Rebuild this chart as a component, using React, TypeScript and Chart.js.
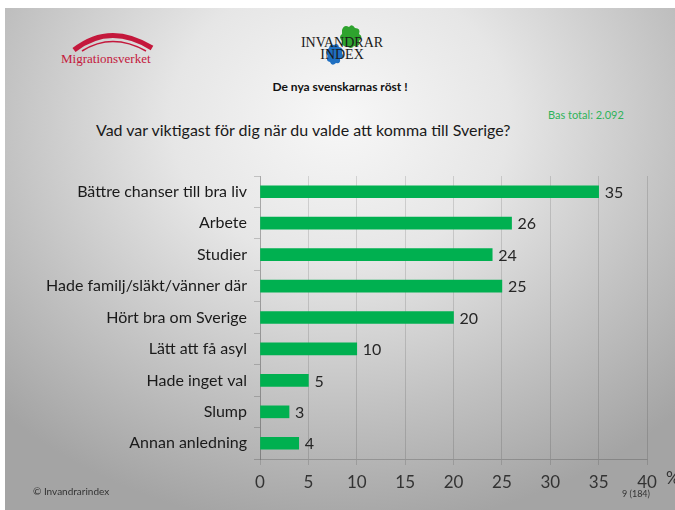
import React, { useEffect, useRef } from "react";
import { Chart, registerables } from "chart.js";

Chart.register(...registerables);

const categories: string[] = [
  "Bättre chanser till bra liv",
  "Arbete",
  "Studier",
  "Hade familj/släkt/vänner där",
  "Hört bra om Sverige",
  "Lätt att få asyl",
  "Hade inget val",
  "Slump",
  "Annan anledning",
];
const values: number[] = [35, 26, 24, 25, 20, 10, 5, 3, 4];
const xTicks: number[] = [0, 5, 10, 15, 20, 25, 30, 35, 40];

const FONT = "Lato, 'Open Sans', sans-serif";

const valueLabels = {
  id: "valueLabels",
  afterDatasetsDraw(chart: any) {
    const ctx = chart.ctx;
    const meta = chart.getDatasetMeta(0);
    ctx.save();
    ctx.font = `16px ${FONT}`;
    ctx.fillStyle = "#262626";
    ctx.textAlign = "left";
    ctx.textBaseline = "middle";
    meta.data.forEach((bar: any, i: number) => {
      ctx.fillText(String(chart.data.datasets[0].data[i]), bar.x + 6, bar.y + 1);
    });
    ctx.restore();
  },
};

export default function App() {
  const ref = useRef<HTMLCanvasElement | null>(null);
  useEffect(() => {
    if (!ref.current) return;
    const chart = new Chart(ref.current, {
      type: "bar",
      data: {
        labels: categories,
        datasets: [
          {
            data: values,
            backgroundColor: "#00b050",
            borderWidth: 0,
            barThickness: 12,
          },
        ],
      },
      plugins: [valueLabels],
      options: {
        indexAxis: "y",
        responsive: false,
        animation: false,
        layout: { padding: { left: 0, top: 176, right: 28, bottom: 21 } },
        plugins: {
          legend: { display: false },
          tooltip: { enabled: false },
        },
        scales: {
          x: {
            min: 0,
            max: 40,
            afterFit: (s: any) => {
              s.height = 30;
            },
            afterBuildTicks: (s: any) => {
              s.ticks = xTicks.map((v) => ({ value: v }));
            },
            ticks: {
              font: { size: 17, family: FONT },
              color: "#333333",
              padding: 7,
            },
            grid: {
              color: "rgba(0,0,0,0.13)",
              tickLength: 6,
              lineWidth: 1,
            },
            border: { color: "rgba(0,0,0,0.18)" },
          },
          y: {
            afterFit: (s: any) => {
              s.width = 260;
            },
            ticks: {
              font: { size: 16, family: FONT },
              color: "#1a1a1a",
              padding: 7,
            },
            grid: {
              drawOnChartArea: false,
              tickLength: 6,
              offset: true,
              color: "rgba(0,0,0,0.18)",
            },
            border: { color: "rgba(0,0,0,0.18)" },
          },
        },
      } as any,
    });
    return () => chart.destroy();
  }, []);

  return (
    <div
      style={{
        position: "absolute",
        left: 0,
        top: 0,
        width: 675,
        height: 510,
        background: "#ffffff",
        overflow: "hidden",
        fontFamily: FONT,
      }}
    >
      <div
        style={{
          position: "absolute",
          left: 5,
          top: 8,
          width: 670,
          height: 502,
          background:
            "radial-gradient(ellipse 72% 82% at 50% 22%, #f7f7f7 0%, #e6e6e6 35%, #c2c2c2 70%, #a4a4a4 100%)",
        }}
      />
      {/* Migrationsverket logo */}
      <svg
        style={{ position: "absolute", left: 60, top: 30 }}
        width={100}
        height={25}
      >
        <path
          d="M14 20 Q50 -8 92 18"
          stroke="#c4183c"
          strokeWidth={5}
          fill="none"
        />
        <path
          d="M22 21 Q52 2 86 21"
          stroke="#c4183c"
          strokeWidth={1.5}
          fill="none"
        />
      </svg>
      <div
        style={{
          position: "absolute",
          left: 61,
          top: 51,
          fontFamily: "'Liberation Serif', serif",
          fontSize: 13,
          color: "#c4183c",
          whiteSpace: "nowrap",
        }}
      >
        Migrationsverket
      </div>
      {/* Invandrar index logo */}
      <svg
        style={{ position: "absolute", left: 322, top: 22 }}
        width={44}
        height={46}
      >
        <path
          d="M20 8 Q22 2 27 5 Q30 1 33 6 Q39 6 37 12 Q42 15 37 19 Q39 25 32 24 Q29 28 25 24 Q19 25 20 19 Q16 15 20 12 Z"
          fill="#2ea32e"
        />
        <path
          d="M7 26 Q8 21 12 23 Q16 20 17 25 Q22 26 20 31 Q23 36 18 37 Q19 42 14 41 Q10 45 8 40 Q3 39 6 34 Q2 30 7 26 Z"
          fill="#1f6fc1"
        />
      </svg>
      <div
        style={{
          position: "absolute",
          left: 282,
          top: 37,
          width: 120,
          textAlign: "center",
          fontFamily: "'Liberation Serif', serif",
          fontSize: 14,
          lineHeight: "12px",
          color: "#1a1a1a",
        }}
      >
        INVANDRAR
        <br />
        INDEX
      </div>
      <div
        style={{
          position: "absolute",
          left: 240,
          top: 79,
          width: 200,
          textAlign: "center",
          fontWeight: "bold",
          fontSize: 12,
          color: "#111",
        }}
      >
        De nya svenskarnas röst !
      </div>
      <div
        style={{
          position: "absolute",
          left: 548,
          top: 108,
          fontSize: 11,
          color: "#2fb35a",
          whiteSpace: "nowrap",
        }}
      >
        Bas total: 2.092
      </div>
      <div
        style={{
          position: "absolute",
          left: 96,
          top: 120,
          fontSize: 16,
          color: "#1a1a1a",
          whiteSpace: "nowrap",
        }}
      >
        Vad var viktigast för dig när du valde att komma till Sverige?
      </div>
      <canvas
        ref={ref}
        width={675}
        height={510}
        style={{ position: "absolute", left: 0, top: 0, width: 675, height: 510 }}
      />
      <div
        style={{
          position: "absolute",
          left: 666,
          top: 467,
          fontSize: 17,
          color: "#333",
        }}
      >
        %
      </div>
      <div
        style={{
          position: "absolute",
          left: 33,
          top: 485,
          fontSize: 10,
          color: "#333",
          whiteSpace: "nowrap",
        }}
      >
        © Invandrarindex
      </div>
      <div
        style={{
          position: "absolute",
          left: 622,
          top: 488,
          fontSize: 9,
          color: "#333",
          whiteSpace: "nowrap",
        }}
      >
        9 (184)
      </div>
    </div>
  );
}
